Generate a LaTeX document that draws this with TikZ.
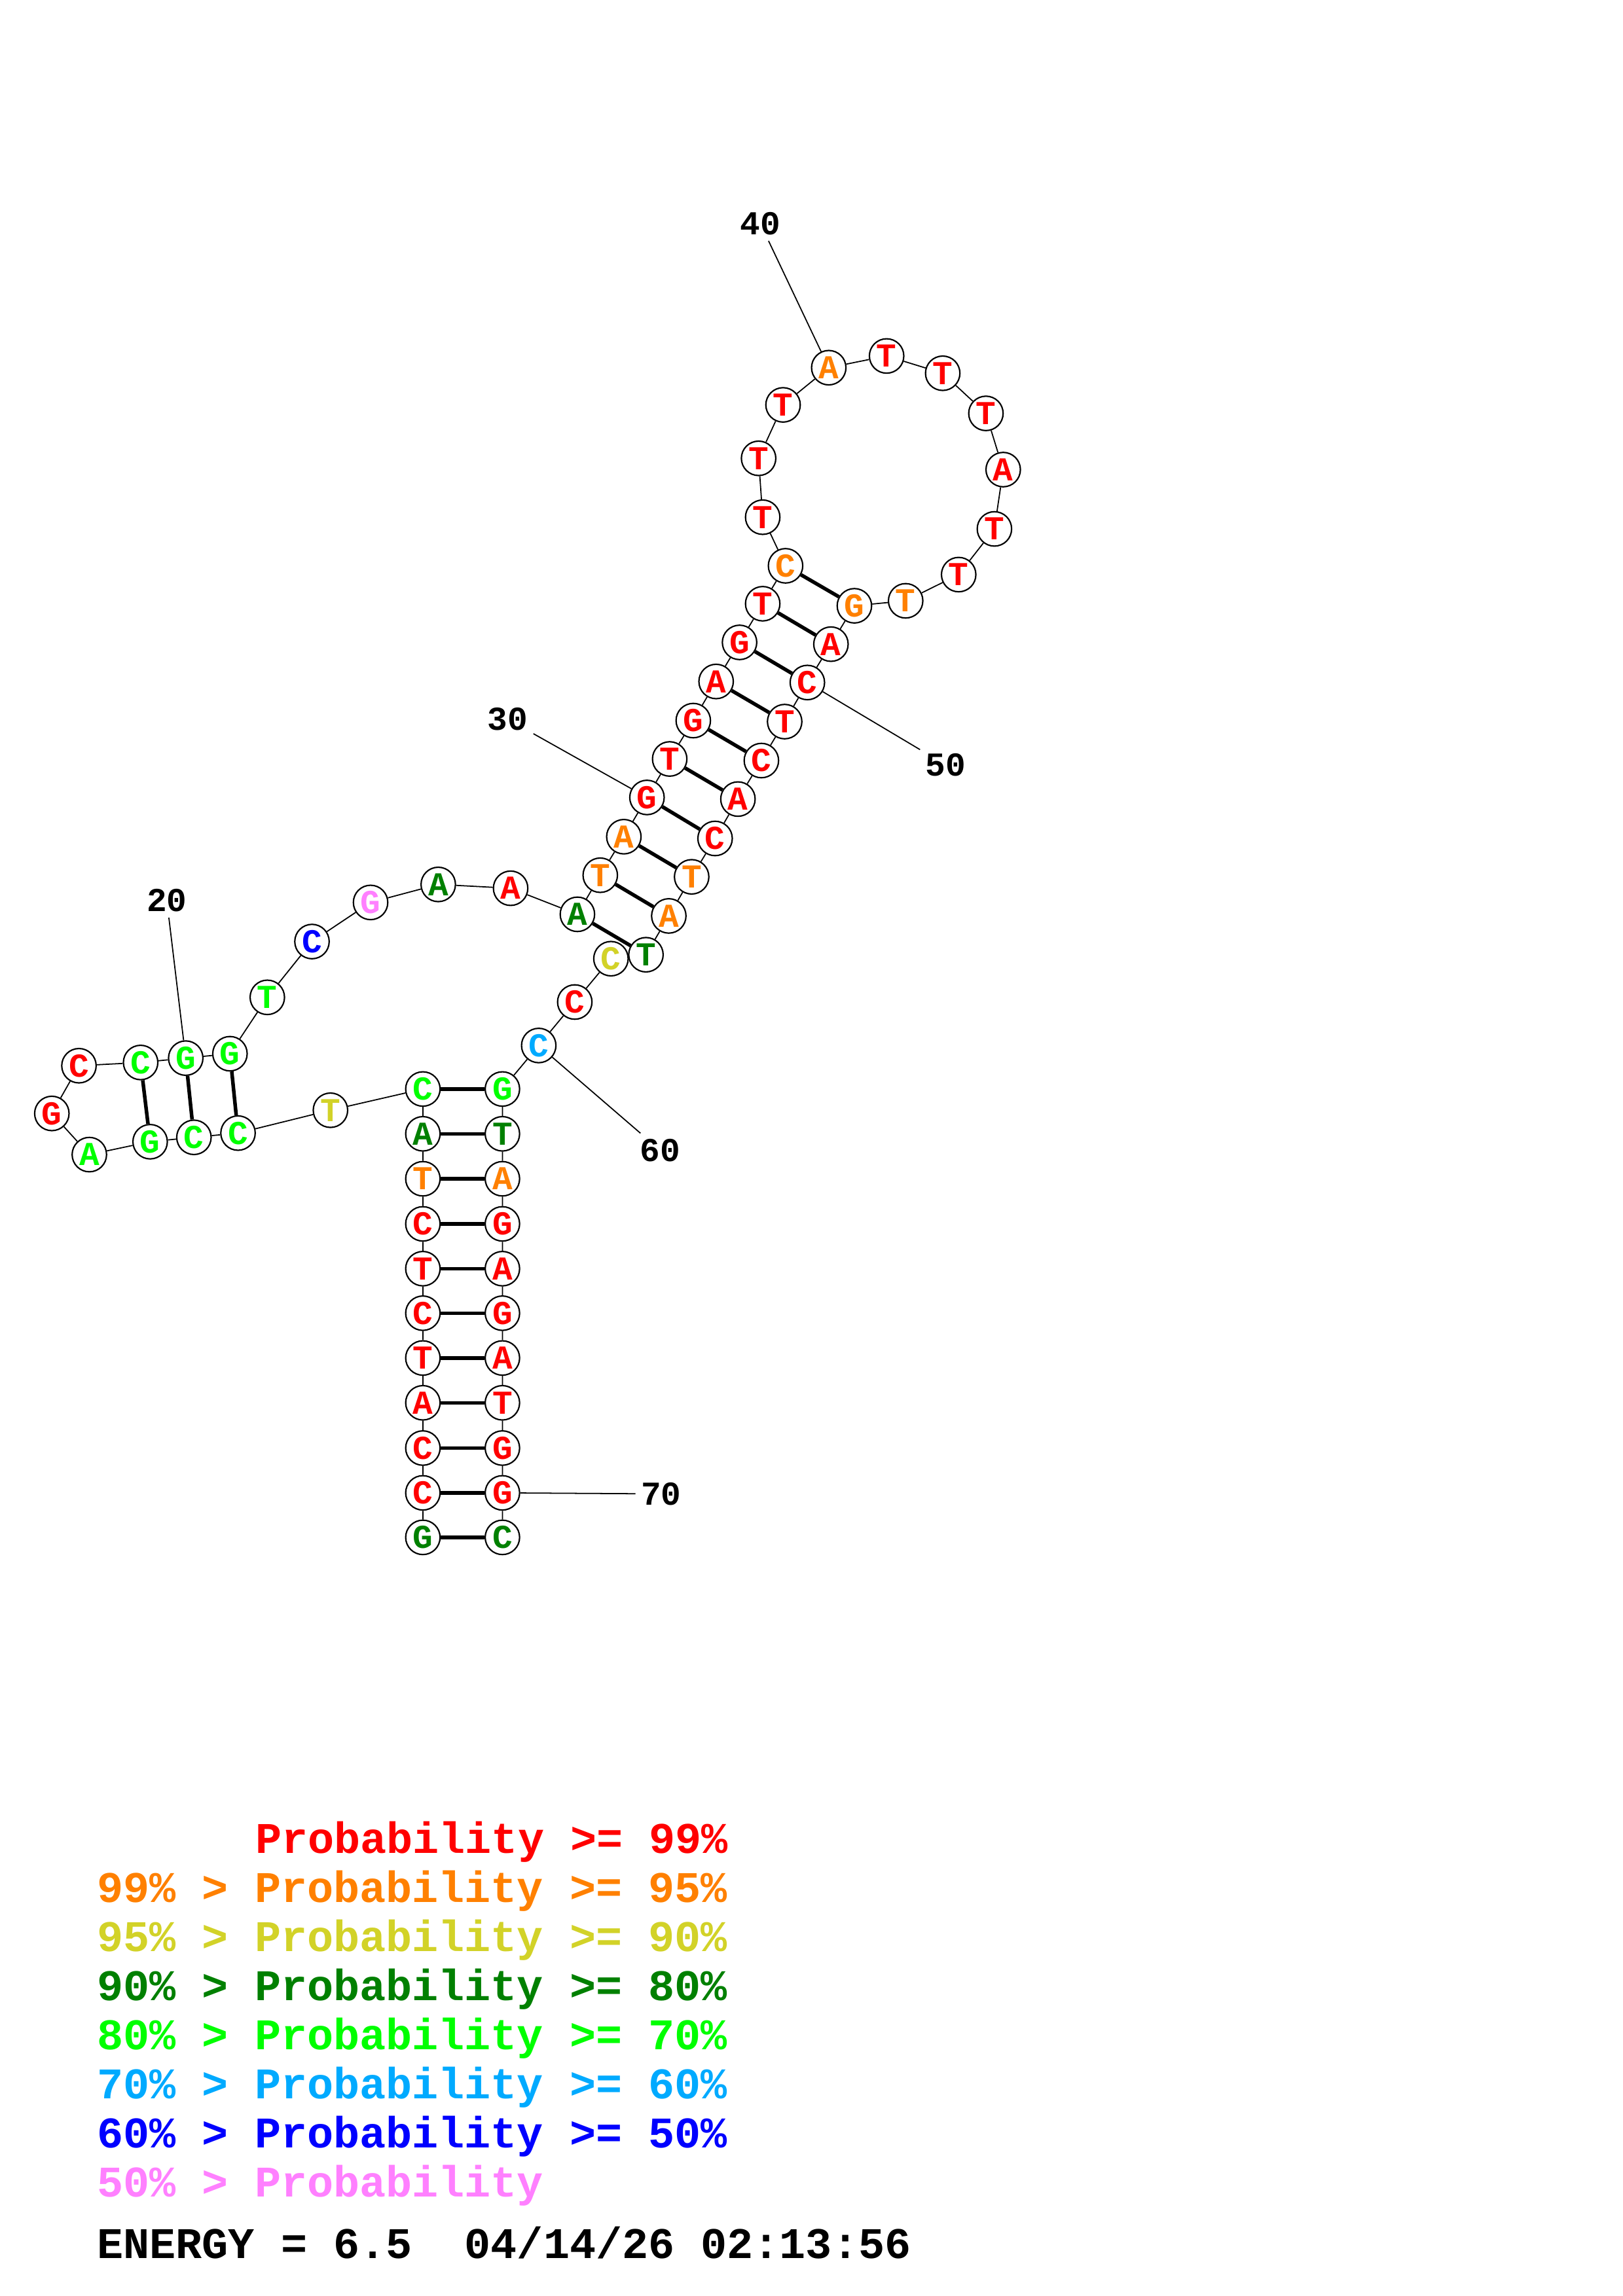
\documentclass[tikz,border=0pt]{standalone}
\usepackage{fontspec}
\usepackage{xcolor}
\usepackage{tikz}
\newfontfamily\ntfont{Liberation Mono}
\definecolor{pr99}{RGB}{255,0,0}
\definecolor{pr95}{RGB}{255,128,0}
\definecolor{pr90}{RGB}{210,210,40}
\definecolor{pr80}{RGB}{0,128,0}
\definecolor{pr70}{RGB}{0,255,0}
\definecolor{pr60}{RGB}{0,170,255}
\definecolor{pr50}{RGB}{0,0,255}
\definecolor{pr00}{RGB}{255,128,255}

\begin{document}
\begin{tikzpicture}[x=0.02cm,y=-0.02cm]
        \tikzstyle{every node}+=[inner sep=0pt]
        \tikzstyle{base}=[circle,draw=black,line width=0.55pt,fill=white,minimum size=0.47cm,font=\ntfont\bfseries\fontsize{13}{13}\selectfont]
        \tikzstyle{num}=[inner sep=2pt,font=\ntfont\bfseries\fontsize{13}{13}\selectfont]
        \tikzstyle{legend}=[anchor=base west,font=\ntfont\bfseries\fontsize{17}{17}\selectfont]
        \useasboundingbox (0,0) rectangle (1108,1568);
        % 5' strand of the closing helix
        \node [base,text=pr80] (n1) at (288.7,1049.9) {G};
        \node [base,text=pr99] (n2) at (288.7,1019.5) {C};
        \node [base,text=pr99] (n3) at (288.7,988.9) {C};
        \node [base,text=pr99] (n4) at (288.7,958) {A};
        \node [base,text=pr99] (n5) at (288.7,927.4) {T};
        \node [base,text=pr99] (n6) at (288.7,896.8) {C};
        \node [base,text=pr99] (n7) at (288.7,866.4) {T};
        \node [base,text=pr99] (n8) at (288.7,835.8) {C};
        \node [base,text=pr95] (n9) at (288.7,805) {T};
        \node [base,text=pr80] (n10) at (288.7,774.3) {A};
        \node [base,text=pr70] (n11) at (288.7,743.7) {C};
        % small hairpin on the left
        \node [base,text=pr90] (n12) at (225.6,758.2) {T};
        \node [base,text=pr70] (n13) at (162.5,773.8) {C};
        \node [base,text=pr70] (n14) at (132.4,776.7) {C};
        \node [base,text=pr70] (n15) at (102.5,779.7) {G};
        \node [base,text=pr70] (n16) at (61,788.5) {A};
        \node [base,text=pr99] (n17) at (35.4,760.4) {G};
        \node [base,text=pr99] (n18) at (53.9,727.8) {C};
        \node [base,text=pr70] (n19) at (96,725.6) {C};
        \node [base,text=pr70] (n20) at (126.8,722.6) {G};
        \node [base,text=pr70] (n21) at (157,719.6) {G};
        \node [base,text=pr70] (n22) at (182.5,681.1) {T};
        \node [base,text=pr50] (n23) at (213,643) {C};
        \node [base,text=pr00] (n24) at (253,616.3) {G};
        \node [base,text=pr80] (n25) at (299.2,604) {A};
        \node [base,text=pr99] (n26) at (348.6,606.6) {A};
        % long helix, 5' side
        \node [base,text=pr80] (n27) at (394.2,624.4) {A};
        \node [base,text=pr95] (n28) at (409.8,597.7) {T};
        \node [base,text=pr95] (n29) at (425.9,571.4) {A};
        \node [base,text=pr99] (n30) at (441.7,544.6) {G};
        \node [base,text=pr99] (n31) at (457.2,518.3) {T};
        \node [base,text=pr99] (n32) at (473.3,492.1) {G};
        \node [base,text=pr99] (n33) at (488.9,465.4) {A};
        \node [base,text=pr99] (n34) at (504.9,438.7) {G};
        \node [base,text=pr99] (n35) at (520.7,412.3) {T};
        \node [base,text=pr95] (n36) at (536.3,386.4) {C};
        % hairpin loop
        \node [base,text=pr99] (n37) at (520.7,353.2) {T};
        \node [base,text=pr99] (n38) at (517.9,313) {T};
        \node [base,text=pr99] (n39) at (534.6,276.5) {T};
        \node [base,text=pr95] (n40) at (565.8,251.1) {A};
        \node [base,text=pr99] (n41) at (605.3,243.1) {T};
        \node [base,text=pr99] (n42) at (643.6,254.9) {T};
        \node [base,text=pr99] (n43) at (673.1,282.3) {T};
        \node [base,text=pr99] (n44) at (684.9,320.7) {A};
        \node [base,text=pr99] (n45) at (678.9,361.2) {T};
        \node [base,text=pr99] (n46) at (654.5,392.4) {T};
        \node [base,text=pr95] (n47) at (618.3,410.3) {T};
        % long helix, 3' side
        \node [base,text=pr95] (n48) at (583.3,413.7) {G};
        \node [base,text=pr99] (n49) at (567.3,439.9) {A};
        \node [base,text=pr99] (n50) at (551.2,466.1) {C};
        \node [base,text=pr99] (n51) at (535.7,492.8) {T};
        \node [base,text=pr99] (n52) at (519.8,519.4) {C};
        \node [base,text=pr99] (n53) at (503.8,545.7) {A};
        \node [base,text=pr99] (n54) at (488.2,572.6) {C};
        \node [base,text=pr95] (n55) at (472.2,598.8) {T};
        \node [base,text=pr95] (n56) at (456.6,625.5) {A};
        \node [base,text=pr80] (n57) at (441,652) {T};
        \node [base,text=pr90] (n58) at (417.1,654.7) {C};
        \node [base,text=pr99] (n59) at (392.4,684.3) {C};
        \node [base,text=pr60] (n60) at (367.8,714) {C};
        % 3' strand of the closing helix
        \node [base,text=pr70] (n61) at (343,743.7) {G};
        \node [base,text=pr80] (n62) at (343,774.3) {T};
        \node [base,text=pr95] (n63) at (343,805) {A};
        \node [base,text=pr99] (n64) at (343,835.8) {G};
        \node [base,text=pr99] (n65) at (343,866.4) {A};
        \node [base,text=pr99] (n66) at (343,896.8) {G};
        \node [base,text=pr99] (n67) at (343,927.4) {A};
        \node [base,text=pr99] (n68) at (343,958) {T};
        \node [base,text=pr99] (n69) at (343,988.9) {G};
        \node [base,text=pr99] (n70) at (343,1019.5) {G};
        \node [base,text=pr80] (n71) at (343,1049.9) {C};
        % backbone
        \draw [black,line width=0.45pt] (n1) -- (n2) -- (n3) -- (n4) -- (n5) -- (n6) -- (n7) -- (n8) -- (n9) -- (n10)
          -- (n11) -- (n12) -- (n13) -- (n14) -- (n15) -- (n16) -- (n17) -- (n18) -- (n19) -- (n20)
          -- (n21) -- (n22) -- (n23) -- (n24) -- (n25) -- (n26) -- (n27) -- (n28) -- (n29) -- (n30)
          -- (n31) -- (n32) -- (n33) -- (n34) -- (n35) -- (n36) -- (n37) -- (n38) -- (n39) -- (n40)
          -- (n41) -- (n42) -- (n43) -- (n44) -- (n45) -- (n46) -- (n47) -- (n48) -- (n49) -- (n50)
          -- (n51) -- (n52) -- (n53) -- (n54) -- (n55) -- (n56) -- (n57) -- (n58) -- (n59) -- (n60)
          -- (n61) -- (n62) -- (n63) -- (n64) -- (n65) -- (n66) -- (n67) -- (n68) -- (n69) -- (n70) -- (n71);
        % base pairs
        \draw [black,line width=1.4pt] (n1) -- (n71);
        \draw [black,line width=1.4pt] (n2) -- (n70);
        \draw [black,line width=1.4pt] (n3) -- (n69);
        \draw [black,line width=1.4pt] (n4) -- (n68);
        \draw [black,line width=1.4pt] (n5) -- (n67);
        \draw [black,line width=1.4pt] (n6) -- (n66);
        \draw [black,line width=1.4pt] (n7) -- (n65);
        \draw [black,line width=1.4pt] (n8) -- (n64);
        \draw [black,line width=1.4pt] (n9) -- (n63);
        \draw [black,line width=1.4pt] (n10) -- (n62);
        \draw [black,line width=1.4pt] (n11) -- (n61);
        \draw [black,line width=1.4pt] (n13) -- (n21);
        \draw [black,line width=1.4pt] (n14) -- (n20);
        \draw [black,line width=1.4pt] (n15) -- (n19);
        \draw [black,line width=1.4pt] (n27) -- (n57);
        \draw [black,line width=1.4pt] (n28) -- (n56);
        \draw [black,line width=1.4pt] (n29) -- (n55);
        \draw [black,line width=1.4pt] (n30) -- (n54);
        \draw [black,line width=1.4pt] (n31) -- (n53);
        \draw [black,line width=1.4pt] (n32) -- (n52);
        \draw [black,line width=1.4pt] (n33) -- (n51);
        \draw [black,line width=1.4pt] (n34) -- (n50);
        \draw [black,line width=1.4pt] (n35) -- (n49);
        \draw [black,line width=1.4pt] (n36) -- (n48);
        % position marks
        \node [num] (l20) at (113.9,615.1) {20};
        \node [num] (l30) at (346.6,491.2) {30};
        \node [num] (l40) at (519.2,152.9) {40};
        \node [num] (l50) at (645.7,522.4) {50};
        \node [num] (l60) at (450.7,785.5) {60};
        \node [num] (l70) at (451.4,1020.2) {70};
        \draw [black,line width=0.45pt] (l20) -- (n20);
        \draw [black,line width=0.45pt] (l30) -- (n30);
        \draw [black,line width=0.45pt] (l40) -- (n40);
        \draw [black,line width=0.45pt] (l50) -- (n50);
        \draw [black,line width=0.45pt] (l60) -- (n60);
        \draw [black,line width=0.45pt] (l70) -- (n70);
        % legend
        \node [legend,text=pr99] (k99) at (174,1265.8) {Probability >= 99\%};
        \node [legend,text=pr95] (k95) at (66,1299.3) {99\% > Probability >= 95\%};
        \node [legend,text=pr90] (k90) at (66,1332.8) {95\% > Probability >= 90\%};
        \node [legend,text=pr80] (k80) at (66,1366.3) {90\% > Probability >= 80\%};
        \node [legend,text=pr70] (k70) at (66,1399.8) {80\% > Probability >= 70\%};
        \node [legend,text=pr60] (k60) at (66,1433.3) {70\% > Probability >= 60\%};
        \node [legend,text=pr50] (k50) at (66,1466.8) {60\% > Probability >= 50\%};
        \node [legend,text=pr00] (k00) at (66,1500.3) {50\% > Probability};
        \node [legend,text=black] (energy) at (66,1542.4) {ENERGY = 6.5\ \ 04/14/26 02:13:56};
    \end{tikzpicture}
\end{document}
